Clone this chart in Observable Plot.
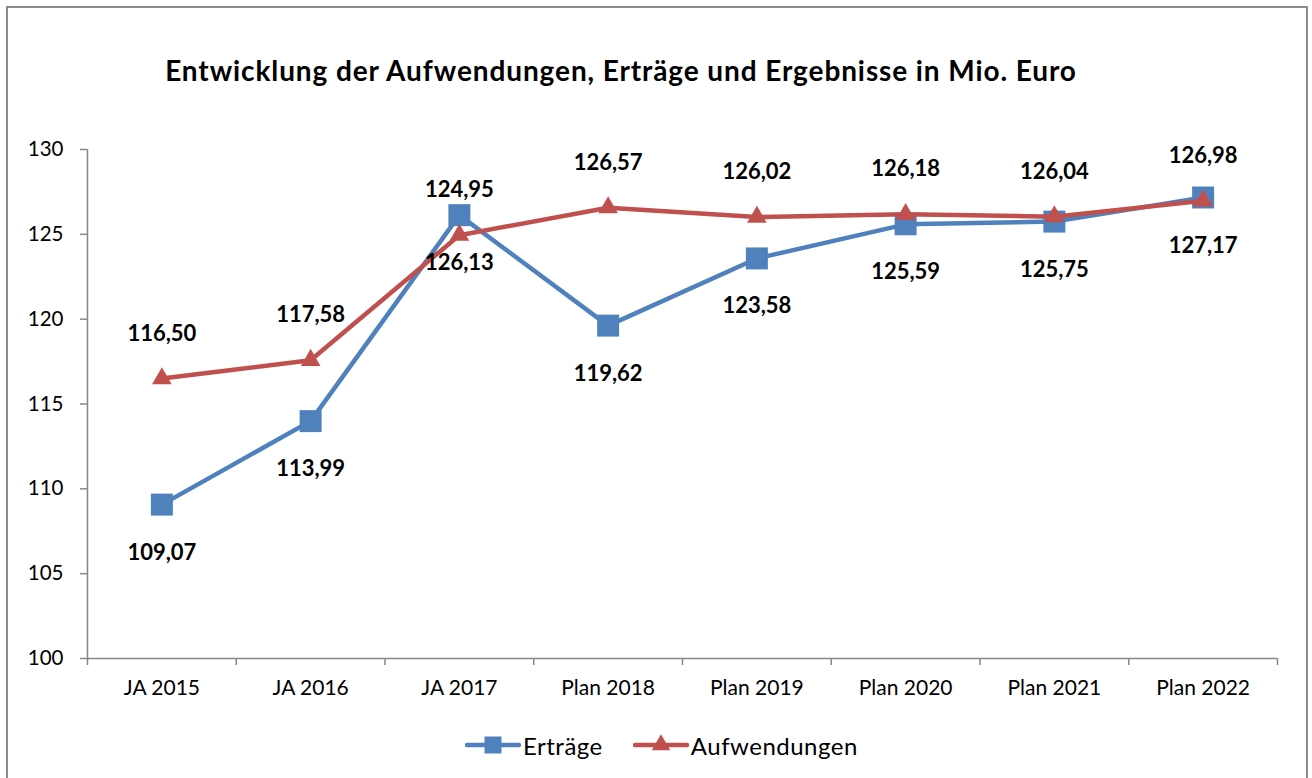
<!DOCTYPE html>
<html>
<head>
<meta charset="utf-8">
<script src="https://cdn.jsdelivr.net/npm/d3@7"></script>
<script src="https://cdn.jsdelivr.net/npm/@observablehq/plot@0.6"></script>
<style>
  body { margin: 0; background: #fff; font-family: Lato, "Open Sans", sans-serif; }
  #wrap { position: relative; width: 1312px; height: 778px; overflow: hidden; }
  #frame { position: absolute; left: 6px; top: 6px; width: 1302px; height: 820px; border: 2px solid #8c8c8c; box-sizing: border-box; }
  #title { position: absolute; top: 53px; left: 0; width: 1242px; text-align: center; font-weight: bold; font-size: 28px; letter-spacing: 0.9px; line-height: 34px; color: #000; white-space: nowrap; }
  #chart { position: absolute; top: 110px; left: 0; }
  #legend { position: absolute; top: 728px; left: 465px; height: 34px; display: flex; align-items: center; font-size: 24px; letter-spacing: 0.5px; color: #000; }
  #legend .item { display: flex; align-items: center; }
  #legend svg { display: block; }
</style>
</head>
<body>
<div id="wrap">
  <div id="frame"></div>
  <div id="title">Entwicklung der Aufwendungen, Erträge und Ergebnisse in Mio. Euro</div>
  <div id="chart"></div>
  <div id="legend"></div>
</div>
<script>
// ---- Data ----
const categories = ["JA 2015", "JA 2016", "JA 2017", "Plan 2018", "Plan 2019", "Plan 2020", "Plan 2021", "Plan 2022"];
const ertraege = [109.07, 113.99, 126.13, 119.62, 123.58, 125.59, 125.75, 127.17];
const aufwendungen = [116.50, 117.58, 124.95, 126.57, 126.02, 126.18, 126.04, 126.98];
const yTicks = [100, 105, 110, 115, 120, 125, 130];
const seriesNames = ["Erträge", "Aufwendungen"];

// ---- Styles ----
const blue = "#4F81BD";
const red = "#C0504D";
const gray = "#888888";

const fmt = v => d3.format(".2f")(v).replace(".", ",");
const ertData = categories.map((c, i) => ({xi: i + 0.5, cat: c, v: ertraege[i]}));
const aufData = categories.map((c, i) => ({xi: i + 0.5, cat: c, v: aufwendungen[i]}));

const chart = Plot.plot({
  width: 1312,
  height: 598,
  marginTop: 39,
  marginBottom: 50,
  marginLeft: 87,
  marginRight: 35,
  style: { fontFamily: "Lato, 'Open Sans', sans-serif", background: "transparent", color: "#000" },
  x: { domain: [0, categories.length], label: null },
  y: { domain: [100, 130], label: null },
  marks: [
    Plot.ruleY([100], { stroke: gray, strokeWidth: 1.5 }),
    Plot.ruleX([0], { stroke: gray, strokeWidth: 1.5 }),
    Plot.axisY(yTicks, { tickSize: 7, tickPadding: 17, fontSize: 20.5, stroke: gray, strokeWidth: 1.5, fill: "#000", label: null }),
    Plot.axisX(d3.range(categories.length + 1), { tickSize: 7, tickFormat: () => "", stroke: gray, strokeWidth: 1.5, label: null }),
    Plot.axisX(categories.map((c, i) => i + 0.5), { tickSize: 0, tickPadding: 22, fontSize: 21, fill: "#000", tickFormat: d => categories[Math.round(d - 0.5)], label: null }),
    Plot.line(ertData, { x: "xi", y: "v", stroke: blue, strokeWidth: 4.5 }),
    Plot.dot(ertData, { x: "xi", y: "v", symbol: "square", r: 12.4, fill: blue, stroke: "none" }),
    Plot.line(aufData, { x: "xi", y: "v", stroke: red, strokeWidth: 4.5 }),
    Plot.dot(aufData, { x: "xi", y: "v", symbol: "triangle", r: 7.3, fill: red, stroke: "none" }),
    Plot.text(ertData, { x: "xi", y: "v", text: d => fmt(d.v), dy: 48, fontSize: 22, fontWeight: "bold", fill: "#000" }),
    Plot.text(aufData, { x: "xi", y: "v", text: d => fmt(d.v), dy: -45, fontSize: 22, fontWeight: "bold", fill: "#000" })
  ]
});
document.getElementById("chart").appendChild(chart);

// ---- Legend ----
const legend = d3.select("#legend");
const items = [
  { name: seriesNames[0], color: blue, symbol: d3.symbolSquare, size: 17 * 17 },
  { name: seriesNames[1], color: red, symbol: d3.symbolTriangle, size: 150 }
];
items.forEach((it, i) => {
  const item = legend.append("div").attr("class", "item").style("margin-right", i === 0 ? "30px" : "0px");
  const svg = item.append("svg").attr("width", 56).attr("height", 24);
  svg.append("line").attr("x1", 2).attr("x2", 54).attr("y1", 12).attr("y2", 12)
    .attr("stroke", it.color).attr("stroke-width", 4.5).attr("stroke-linecap", "round");
  svg.append("path").attr("d", d3.symbol(it.symbol, it.size)()).attr("transform", "translate(28,12)").attr("fill", it.color);
  item.append("span").text(it.name).style("margin-left", "2px");
});
</script>
</body>
</html>
